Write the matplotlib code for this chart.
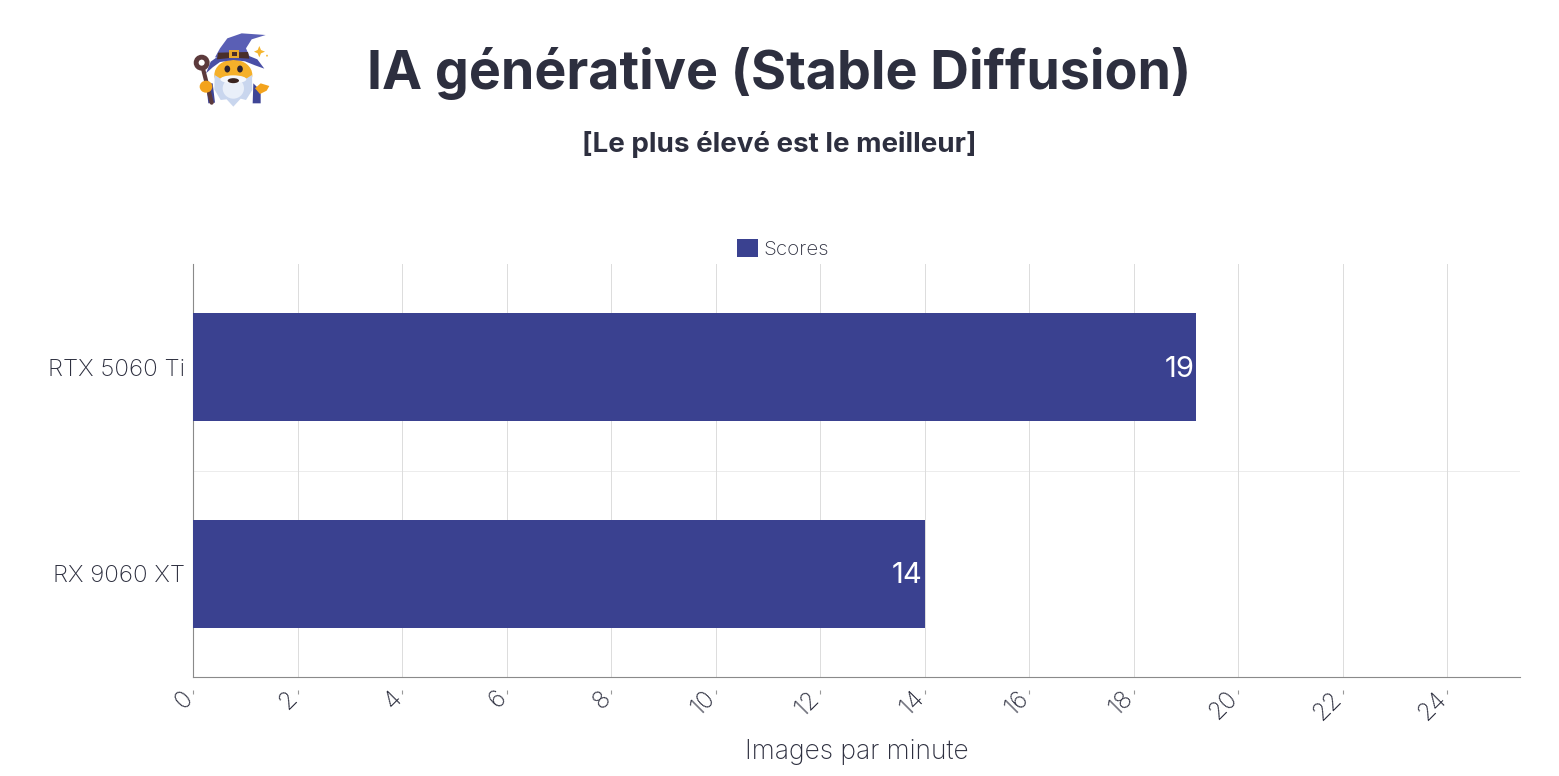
import matplotlib
matplotlib.use("Agg")
import matplotlib.pyplot as plt
from matplotlib.patches import Circle, Ellipse, Polygon
from matplotlib.transforms import ScaledTranslation

plt.rcParams['font.family'] = ['Inter', 'DejaVu Sans']

# data
categories = ["RX 9060 XT", "RTX 5060 Ti"]
scores = [14, 19.2]
value_labels = ["14", "19"]
x_ticks = [0, 2, 4, 6, 8, 10, 12, 14, 16, 18, 20, 22, 24]

TEXT = "#2d2f3f"
BAR = "#3a4190"
W, H = 1559, 776

fig = plt.figure(figsize=(W / 100, H / 100), dpi=100, facecolor="white")
ax = fig.add_axes([193 / W, 1 - 677 / H, (1520 - 193) / W, (677 - 264) / H])


def draw_wizard(fig):
    """Small wizard icon, drawn in pixel coordinates of the figure."""
    ov = fig.add_axes([0, 0, 1, 1], zorder=5)
    ov.set_xlim(0, W)
    ov.set_ylim(H, 0)
    ov.axis("off")
    ov.patch.set_alpha(0)

    def pt(x, y):
        return 170 + x / 3, 20 + y / 3

    def poly(points, color, z=1):
        ov.add_patch(Polygon([pt(*p) for p in points], closed=True, fc=color, ec="none", zorder=z))

    def ell(x, y, w, h, color, z=1):
        ov.add_patch(Ellipse(pt(x, y), w / 3, h / 3, fc=color, ec="none", zorder=z))

    # sleeves
    poly([(108, 190), (128, 190), (135, 248), (115, 250)], "#3f4596", 1)
    poly([(250, 190), (272, 212), (272, 250), (248, 250)], "#3f4596", 1)
    # face
    ell(190, 165, 114, 92, "#f5b02a", 2)
    ell(172, 147, 17, 21, "#2b2230", 3)
    ell(210, 147, 17, 21, "#2b2230", 3)
    # beard
    poly([(134, 165), (150, 175), (172, 168), (190, 170), (208, 168), (230, 175), (246, 165), (247, 210),
          (228, 240), (212, 236), (190, 260), (170, 238), (152, 240), (133, 208)], "#c9d6ee", 4)
    ell(190, 205, 64, 62, "#e9eff9", 4)
    ell(190, 178, 78, 24, "#f4f7fc", 5)
    ell(190, 182, 34, 15, "#3a2420", 6)
    # hat
    poly([(135, 112), (150, 85), (172, 55), (215, 40), (287, 45), (245, 58), (228, 85), (240, 112)], "#5a5fb5", 7)
    poly([(108, 160), (122, 125), (150, 105), (230, 105), (262, 118), (283, 146), (255, 136), (225, 124),
          (190, 120), (150, 126), (128, 142)], "#4a4fa6", 8)
    poly([(144, 98), (234, 96), (238, 116), (190, 113), (141, 118)], "#4a2f2a", 9)
    poly([(177, 90), (208, 90), (208, 113), (177, 113)], "#e8a92c", 10)
    poly([(185, 96), (200, 96), (200, 107), (185, 107)], "#4a2f2a", 11)
    # staff
    ov.plot(*zip(pt(100, 150), pt(125, 248)), color="#5c3a3c", lw=3, solid_capstyle="round", zorder=12)
    ov.add_patch(Circle(pt(95, 128), 5.5, fc="none", ec="#5c3a3c", lw=3.5, zorder=12))
    # hands
    ell(108, 200, 38, 36, "#f3a31c", 13)
    poly([(255, 205), (272, 190), (298, 198), (290, 212), (270, 222)], "#f3a31c", 13)
    # sparkle
    poly([(268, 78), (273, 90), (285, 95), (273, 100), (268, 112), (263, 100), (252, 95), (263, 90)], "#f5b52e", 14)
    ell(291, 107, 6, 6, "#f5c24e", 14)


ax.barh(categories, scores, height=0.523, color=BAR, zorder=3)
ax.set_ylim(-0.5, 1.5)
ax.set_xlim(0, 25.39)

for pos, (val, lab) in enumerate(zip(scores, value_labels)):
    ax.annotate(lab, (val, pos), xytext=(-1.5, -1.5), textcoords="offset points", ha="right", va="center",
                color="white", fontsize=21, zorder=4)

# light grid, with the single category separator
ax.set_xticks(x_ticks)
ax.set_xticklabels([str(t) for t in x_ticks], rotation=45, ha="right", rotation_mode="anchor",
                   fontsize=17.5, color=TEXT, fontweight="light")
ax.grid(axis="x", color="#dcdcdc", lw=0.7, zorder=0)
ax.axhline(0.5, color="#ececec", lw=0.7, zorder=0)
ax.tick_params(axis="x", length=0, pad=7)
# tick marks sit apart from the axis line
ax.vlines(x_ticks, -17 / 413, -13 / 413, transform=ax.get_xaxis_transform(), color="#999999", lw=0.8, clip_on=False)
shift = ScaledTranslation(-12 / 100, 0, fig.dpi_scale_trans)
for lab in ax.get_xticklabels():
    lab.set_transform(lab.get_transform() + shift)

ax.tick_params(axis="y", length=0, pad=6, labelsize=17.4, labelcolor=TEXT)
for lab in ax.get_yticklabels():
    lab.set_fontweight("light")

for side in ("top", "right"):
    ax.spines[side].set_visible(False)
for side in ("left", "bottom"):
    ax.spines[side].set_color("#8a8a8a")
    ax.spines[side].set_linewidth(0.8)

fig.text(779 / W, 1 - 73 / H, "IA générative (Stable Diffusion)", ha="center", va="center",
         fontsize=38.7, fontweight="bold", color=TEXT)
fig.text(779 / W, 1 - 144 / H, "[Le plus élevé est le meilleur]", ha="center", va="center",
         fontsize=20, fontweight="bold", color=TEXT)
fig.text(857 / W, 1 - 752 / H, "Images par minute", ha="center", va="center",
         fontsize=19, color=TEXT, fontweight="light")

# legend
leg = ax.legend(handles=[plt.Rectangle((0, 0), 1, 1, fc=BAR, label="Scores")], loc="center",
                bbox_to_anchor=(783 / W, 1 - 249 / H), bbox_transform=fig.transFigure, frameon=False,
                fontsize=14.8, handlelength=1, handleheight=1, handletextpad=0.25, borderpad=0)
for text in leg.get_texts():
    text.set_color(TEXT)
    text.set_fontweight("light")

draw_wizard(fig)

fig.savefig("out.png", dpi=100, facecolor="white")
